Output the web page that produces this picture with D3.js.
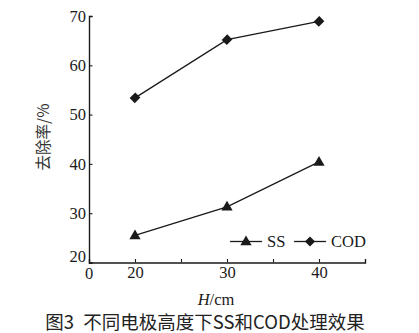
<!DOCTYPE html>
<html>
<head>
<meta charset="utf-8">
<script src="https://cdn.jsdelivr.net/npm/d3@7"></script>
<style>
  html, body { margin: 0; padding: 0; background: #fff; }
  svg { display: block; }
</style>
</head>
<body>
<svg id="chart" width="419" height="333"></svg>
<script>
// Electrode height (cm) and removal rates (%)
const heights = [20, 30, 40];
const ssRemoval = [25.5, 31.3, 40.4];
const codRemoval = [53.4, 65.2, 68.9];
const xTickValues = [20, 25, 30, 35, 40];
const xTickLabels = ["20", "", "30", "", "40"];
const yTickValues = [20, 30, 40, 50, 60, 70];
const seriesNames = ["SS", "COD"];

const svg = d3.select("#chart");
const serif = "'Liberation Serif', 'DejaVu Serif', serif";
const ink = "#1a1a1a";
const tickFont = "16.5px";

const x = d3.scaleLinear().domain([15, 45]).range([89, 365]);
const y = d3.scaleLinear().domain([20, 70]).range([262.5, 16]);

// Axes with inward ticks
const xAxis = svg.append("g")
  .attr("transform", `translate(0,${y(20)})`)
  .call(d3.axisBottom(x).tickValues(xTickValues)
    .tickFormat((d, i) => xTickLabels[i]).tickSize(-3.5).tickPadding(5));
const yAxis = svg.append("g")
  .attr("transform", `translate(${x(15)},0)`)
  .call(d3.axisLeft(y).tickValues(yTickValues).tickSize(-3.5).tickPadding(3));

[xAxis, yAxis].forEach(g => {
  g.select(".domain").attr("stroke", ink).attr("stroke-width", 1.4);
  g.selectAll(".tick line").attr("stroke", ink).attr("stroke-width", 1.1);
  g.selectAll(".tick text")
    .attr("fill", ink).style("font-family", serif).style("font-size", tickFont);
});
// Baseline "20" sits slightly above the x-axis, origin "0" below it
yAxis.selectAll(".tick").filter(d => d === 20).select("text").attr("dy", "-0.05em");
xAxis.selectAll(".tick text").attr("dy", "0.62em");

// Origin label
svg.append("text")
  .attr("x", x(15)).attr("y", y(20) + 16)
  .attr("text-anchor", "middle")
  .attr("fill", ink)
  .style("font-family", serif).style("font-size", tickFont)
  .text("0");

const line = d3.line().x((d, i) => x(heights[i])).y(d => y(d));
const tri = d3.symbol().type(d3.symbolTriangle).size(55);
const sq = d3.symbol().type(d3.symbolSquare).size(52);

function drawSeries(values, sym, yOff, rot) {
  svg.append("path").datum(values)
    .attr("d", line).attr("fill", "none")
    .attr("stroke", ink).attr("stroke-width", 1.3);
  svg.selectAll(null).data(values).enter().append("path")
    .attr("d", sym)
    .attr("transform", (d, i) => `translate(${x(heights[i])},${y(d) + yOff}) rotate(${rot}) scale(1,${rot ? 1.1 : 1})`)
    .attr("fill", ink);
}
drawSeries(ssRemoval, tri, 0.5, 0);
drawSeries(codRemoval, sq, 0, 45);

// Legend
const legendY = 241.5;
const legend = [
  { name: seriesNames[0], sym: tri, x0: 230, yOff: 0.5, rot: 0 },
  { name: seriesNames[1], sym: sq, x0: 294, yOff: 0, rot: 45 }
];
legend.forEach(l => {
  svg.append("line")
    .attr("x1", l.x0).attr("x2", l.x0 + 32)
    .attr("y1", legendY).attr("y2", legendY)
    .attr("stroke", ink).attr("stroke-width", 1.3);
  svg.append("path").attr("d", l.sym)
    .attr("transform", `translate(${l.x0 + 16},${legendY + l.yOff}) rotate(${l.rot})`)
    .attr("fill", ink);
  svg.append("text")
    .attr("x", l.x0 + 37).attr("y", legendY + 5.5)
    .attr("fill", ink)
    .style("font-family", serif).style("font-size", tickFont)
    .text(l.name);
});

// Axis titles
svg.append("text")
  .attr("transform", `translate(49,137) rotate(-90)`)
  .attr("text-anchor", "middle")
  .attr("fill", "#333")
  .style("font-family", "'Noto Sans CJK SC', sans-serif")
  .style("font-size", "15.5px")
  .text("去除率/%");

const xt = svg.append("text")
  .attr("x", 216).attr("y", 305)
  .attr("text-anchor", "middle")
  .attr("fill", ink)
  .style("font-family", serif).style("font-size", tickFont);
xt.append("tspan").style("font-style", "italic").text("H");
xt.append("tspan").text("/cm");

// Figure caption
svg.append("text")
  .attr("x", 205).attr("y", 329)
  .attr("text-anchor", "middle")
  .attr("fill", "#222")
  .style("font-family", "'Noto Sans CJK SC', sans-serif")
  .style("font-size", "18.5px")
  .style("white-space", "pre")
  .text("图3\u2002不同电极高度下SS和COD处理效果");
</script>
</body>
</html>
